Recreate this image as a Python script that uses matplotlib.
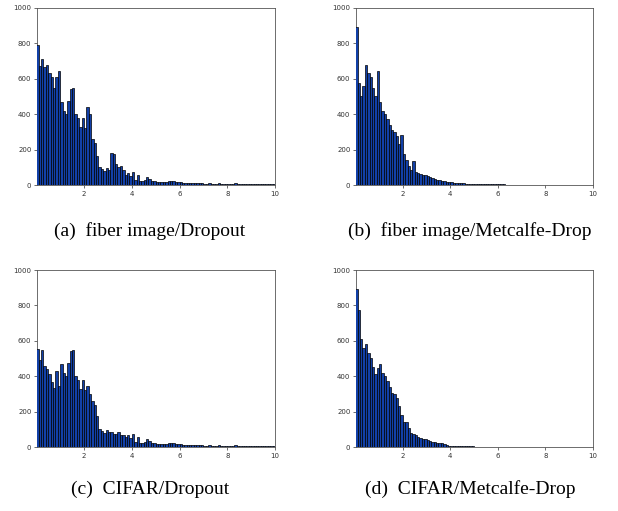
import numpy as np
import matplotlib
matplotlib.use("Agg")
import matplotlib.pyplot as plt

# bin edges: 100 bins of width 0.1 over 0..10
bin_edges = np.linspace(0.0, 10.0, 101)

# (a) fiber image / Dropout
counts_a = [790, 675, 710, 665, 680, 630, 610, 550, 610, 645,
            470, 420, 400, 475, 540, 550, 400, 380, 330, 380,
            320, 440, 400, 260, 235, 165, 100, 90, 80, 95,
            85, 180, 175, 120, 100, 110, 85, 55, 70, 50,
            75, 30, 55, 25, 25, 30, 45, 35, 20, 25,
            16, 15, 15, 15, 18, 20, 25, 22, 18, 15,
            15, 13, 12, 12, 11, 10, 10, 10, 13, 9,
            8, 8, 9, 7, 8, 8, 9, 7, 8, 8,
            7, 8, 7, 9, 7, 7, 8, 7, 6, 7,
            7, 6, 7, 6, 8, 8, 7, 6, 6, 7]

# (b) fiber image / Metcalfe-Drop
counts_b = [890, 575, 505, 560, 680, 630, 610, 550, 505, 645,
            470, 420, 400, 375, 340, 310, 300, 275, 230, 280,
            175, 140, 110, 85, 135, 75, 65, 60, 55, 55,
            50, 48, 40, 35, 30, 28, 25, 20, 18, 17,
            15, 13, 12, 10, 12, 10, 8, 6, 5, 4,
            4, 4, 3, 3, 3, 3, 3, 3, 3, 3,
            3, 3, 3, 2, 2, 2, 2, 2, 2, 2,
            2, 2, 2, 2, 2, 2, 2, 2, 2, 2,
            1, 1, 1, 1, 1, 1, 1, 0, 0, 1,
            1, 1, 1, 1, 1, 1, 0, 0, 0, 0]

# (c) CIFAR / Dropout
counts_c = [555, 490, 550, 460, 440, 410, 365, 335, 430, 345,
            470, 420, 400, 475, 540, 550, 400, 380, 330, 380,
            320, 345, 300, 260, 235, 175, 100, 90, 80, 95,
            85, 85, 75, 75, 85, 70, 65, 55, 70, 50,
            75, 30, 55, 25, 25, 30, 45, 35, 20, 25,
            16, 15, 15, 15, 18, 20, 25, 22, 18, 15,
            15, 13, 12, 12, 11, 10, 10, 10, 13, 9,
            8, 8, 9, 7, 8, 8, 9, 7, 8, 8,
            7, 8, 7, 9, 7, 7, 8, 7, 6, 7,
            7, 6, 7, 6, 8, 8, 7, 6, 6, 7]

# (d) CIFAR / Metcalfe-Drop
counts_d = [890, 775, 610, 560, 580, 530, 505, 450, 410, 445,
            470, 420, 400, 375, 340, 305, 300, 275, 230, 180,
            140, 140, 105, 80, 75, 65, 55, 50, 45, 45,
            40, 35, 30, 28, 25, 22, 25, 15, 10, 8,
            8, 6, 5, 6, 4, 6, 5, 5, 4, 3,
            2, 2, 2, 2, 2, 1, 1, 1, 1, 1,
            1, 1, 1, 1, 1, 1, 1, 1, 1, 1,
            1, 1, 1, 1, 1, 1, 1, 1, 0, 1,
            1, 1, 1, 1, 1, 1, 1, 1, 1, 1,
            1, 1, 1, 1, 1, 1, 0, 0, 0, 0]

captions = ["(a)  fiber image/Dropout", "(b)  fiber image/Metcalfe-Drop",
            "(c)  CIFAR/Dropout", "(d)  CIFAR/Metcalfe-Drop"]
yticks = [0, 200, 400, 600, 800, 1000]
xticks = [2, 4, 6, 8, 10]

fig = plt.figure(figsize=(6.18, 5.11), dpi=100)

W, H = 618.0, 511.0
# axes boxes in pixels: left, right, top, bottom
boxes = [(37, 275, 8, 185), (356, 593, 8, 185),
         (37, 275, 270, 447), (356, 593, 270, 447)]
cap_pos = [(150, 231), (470, 231), (150, 489), (470, 489)]
all_counts = [counts_a, counts_b, counts_c, counts_d]

for counts, box, cap, cp in zip(all_counts, boxes, captions, cap_pos):
    l, r, t, b = box
    ax = fig.add_axes([l / W, 1 - b / H, (r - l) / W, (b - t) / H])
    ax.bar(bin_edges[:-1], counts, width=np.diff(bin_edges), align='edge',
           facecolor='#1240a8', edgecolor='black', linewidth=0.5, zorder=3)
    ax.set_xlim(0.03, 10)
    ax.set_ylim(0, 1000)
    ax.set_xticks(xticks)
    ax.set_yticks(yticks)
    ax.tick_params(labelsize=5, length=2.5, width=0.5, pad=1.5, colors='#333333')
    for s in ax.spines.values():
        s.set_linewidth(0.6)
        s.set_color('#555555')
    fig.text(cp[0] / W, 1 - cp[1] / H, cap, ha='center', va='center',
             family='Liberation Serif', fontsize=14)

fig.savefig("out.png", dpi=100)
